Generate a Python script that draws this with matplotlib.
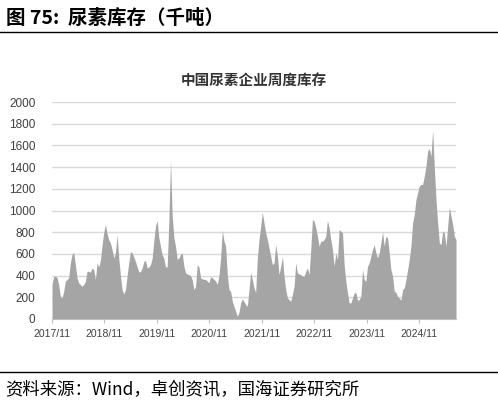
import numpy as np
import pandas as pd
import matplotlib
matplotlib.use("Agg")
import matplotlib.pyplot as plt

plt.rcParams['font.family'] = ['Noto Sans CJK SC', 'DejaVu Sans']

# weekly-ish urea inventory readings (thousand tonnes), 2017/11 .. 2025/07
stock = [
    317, 390, 394, 385, 317, 209, 194, 255, 348, 363, 378, 517, 594, 615, 500, 378,
    332, 317, 302, 317, 348, 440, 440, 430, 470, 455, 363, 520, 480, 540, 680, 800,
    870, 790, 730, 700, 640, 563, 610, 775, 560, 400, 270, 230, 270, 400, 520, 620,
    610, 570, 530, 480, 435, 435, 470, 530, 540, 470, 480, 500, 560, 720, 860, 905,
    750, 670, 590, 560, 480, 480, 900, 1460, 950, 750, 670, 550, 563, 594, 609, 486,
    425, 415, 409, 400, 357, 271, 300, 500, 480, 380, 370, 365, 365, 350, 335, 390,
    380, 365, 350, 320, 400, 560, 820, 720, 670, 409, 271, 255, 163, 117, 71, 25,
    60, 150, 185, 163, 132, 117, 271, 430, 363, 286, 246, 563, 732, 855, 985, 886,
    794, 732, 655, 578, 501, 517, 686, 578, 409, 486, 578, 394, 271, 194, 178, 163,
    225, 302, 517, 425, 415, 409, 394, 394, 440, 470, 409, 640, 917, 901, 840, 763,
    670, 717, 717, 732, 763, 910, 840, 732, 640, 486, 609, 548, 825, 809, 794, 501,
    348, 240, 148, 148, 194, 240, 246, 172, 178, 209, 455, 363, 348, 486, 517, 578,
    640, 686, 609, 563, 609, 701, 805, 670, 763, 748, 609, 455, 394, 255, 246, 209,
    194, 172, 271, 286, 363, 455, 548, 670, 886, 963, 1101, 1163, 1225, 1240, 1240, 1317,
    1409, 1548, 1570, 1501, 1740, 1400, 1101, 886, 701, 686, 809, 794, 670, 855, 1030, 948,
    870, 763, 732,
]
dates = pd.date_range('2017-11-01', '2025-07-15', periods=len(stock))

tick_dates = pd.to_datetime(['2017-11-01', '2018-11-01', '2019-11-01', '2020-11-01',
                             '2021-11-01', '2022-11-01', '2023-11-01', '2024-11-01'])
tick_labels = ['2017/11', '2018/11', '2019/11', '2020/11',
               '2021/11', '2022/11', '2023/11', '2024/11']
y_ticks = [0, 200, 400, 600, 800, 1000, 1200, 1400, 1600, 1800, 2000]

fig = plt.figure(figsize=(4.98, 4.04), dpi=100)
ax = fig.add_axes([0.1044, 0.2104, 0.8113, 0.5371])

ax.fill_between(dates, stock, 0, color='#A5A5A5', linewidth=0)
ax.set_xlim(dates[0], dates[-1])
ax.set_ylim(0, 2000)
ax.set_yticks(y_ticks)
ax.set_yticklabels([str(v) for v in y_ticks], fontsize=8.5, color='#404040',
                   family=['Liberation Sans', 'DejaVu Sans'])
ax.set_xticks(tick_dates)
ax.set_xticklabels(tick_labels, fontsize=7.5, color='#404040',
                   family=['Liberation Sans', 'DejaVu Sans'])
ax.grid(axis='y', color='#D9D9D9', linewidth=1)
ax.set_axisbelow(True)
for s in ['top', 'right', 'left']:
    ax.spines[s].set_visible(False)
ax.spines['bottom'].set_color('#BFBFBF')
ax.tick_params(axis='y', length=0, pad=12)
ax.tick_params(axis='x', length=3, color='#BFBFBF', pad=4)

ax.set_title('中国尿素企业周度库存', fontsize=10.5, fontweight='bold', color='#333333', pad=12)

# header and footer
fig.text(0.012, 0.955, '图 75:  尿素库存（千吨）', fontsize=14, fontweight='bold',
         va='center', ha='left', color='black')
fig.add_artist(plt.Line2D([0.0, 1.0], [0.921, 0.921], color='black', linewidth=1))
fig.add_artist(plt.Line2D([0.0, 1.0], [0.079, 0.079], color='black', linewidth=1))
fig.text(0.01, 0.035, '资料来源：Wind，卓创资讯，国海证券研究所', fontsize=12.5,
         va='center', ha='left', color='black')

fig.savefig('out.png', dpi=100)
